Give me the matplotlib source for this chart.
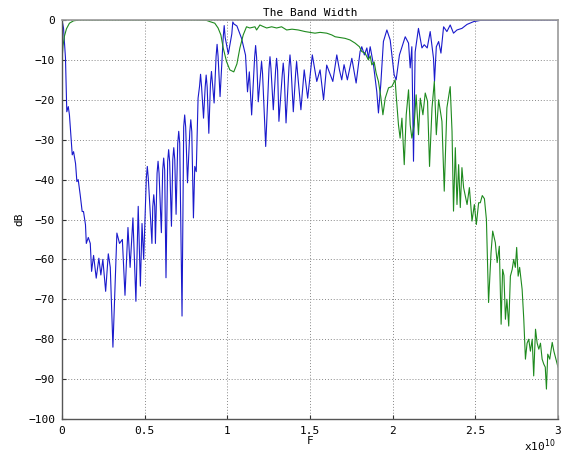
import matplotlib
matplotlib.use("Agg")
import matplotlib.pyplot as plt
import numpy as np

# Frequency in units of 1e10 Hz, magnitude in dB
blue_f = [0.000, 0.009, 0.021, 0.029, 0.038, 0.045, 0.062, 0.070, 0.082, 0.090,
          0.098, 0.110, 0.122, 0.130, 0.142, 0.147, 0.159, 0.171, 0.179, 0.191,
          0.207, 0.223, 0.235, 0.247, 0.264, 0.280, 0.292, 0.308, 0.332, 0.348,
          0.365, 0.381, 0.399, 0.412, 0.429, 0.447, 0.461, 0.474, 0.484, 0.494,
          0.510, 0.516, 0.522, 0.544, 0.549, 0.555, 0.561, 0.565, 0.575, 0.581,
          0.587, 0.601, 0.609, 0.615, 0.621, 0.629, 0.639, 0.645, 0.651, 0.662,
          0.670, 0.676, 0.682, 0.690, 0.700, 0.706, 0.712, 0.726, 0.736, 0.742,
          0.748, 0.759, 0.773, 0.779, 0.785, 0.795, 0.803, 0.812, 0.823, 0.832,
          0.838, 0.844, 0.856, 0.866, 0.872, 0.878, 0.888, 0.898, 0.904, 0.910,
          0.920, 0.932, 0.938, 0.944, 0.956, 0.975, 0.981, 0.987, 1.006, 1.027,
          1.033, 1.040, 1.058, 1.086, 1.110, 1.122, 1.133, 1.147, 1.165, 1.171,
          1.177, 1.187, 1.201, 1.207, 1.213, 1.232, 1.252, 1.258, 1.264, 1.278,
          1.292, 1.298, 1.304, 1.312, 1.332, 1.338, 1.344, 1.355, 1.373, 1.379,
          1.385, 1.399, 1.413, 1.419, 1.425, 1.445, 1.465, 1.486, 1.514, 1.541,
          1.561, 1.582, 1.601, 1.638, 1.662, 1.678, 1.692, 1.706, 1.726, 1.753,
          1.779, 1.803, 1.813, 1.829, 1.844, 1.853, 1.864, 1.884, 1.904, 1.914,
          1.928, 1.944, 1.965, 1.985, 2.009, 2.021, 2.041, 2.076, 2.096, 2.106,
          2.116, 2.126, 2.136, 2.156, 2.177, 2.191, 2.209, 2.227, 2.247, 2.253,
          2.264, 2.278, 2.292, 2.308, 2.328, 2.348, 2.368, 2.389, 2.419, 2.450,
          2.490, 2.530, 3.000]
blue_db = [0, -2, -9.5, -23, -21.7, -23.8, -33.8, -33, -36, -40.5,
           -40, -43.8, -48, -48, -51.3, -56, -54.5, -56, -63, -59,
           -64.7, -59.7, -63.9, -60, -68, -58.6, -62, -82, -53.4, -56,
           -55, -69, -52, -62, -49.6, -70.5, -46.7, -66.7, -51, -60,
           -39.7, -36.7, -39.7, -56, -46.8, -43.8, -46.8, -56, -38.4, -35.4,
           -38.4, -53.3, -37.6, -34.6, -37.6, -64.6, -35.5, -32.5, -35.5, -51.7,
           -35, -32, -35, -48.7, -30.9, -27.9, -30.9, -74.2, -26.8, -23.8,
           -26.8, -40.8, -28, -25, -28, -49.6, -36.7, -38, -19.6, -16.6,
           -13.6, -16.6, -24.6, -16.8, -13.8, -16.8, -28.4, -15.9, -12.9, -15.9,
           -20.8, -9.1, -6.1, -9.1, -19.2, -4.4, -1.4, -4.4, -8.5, -3.5,
           -0.5, -1, -1.5, -4.6, -8.8, -18, -13, -23.8, -9.4, -6.4,
           -9.4, -20.5, -13.4, -10.4, -13.4, -31.7, -12.2, -9.2, -12.2, -22.5,
           -12.6, -9.6, -12.6, -25.4, -13.8, -10.8, -13.8, -25.8, -11.75, -8.75,
           -11.75, -23, -13.4, -10.4, -13.4, -22.5, -12.5, -19.6, -8.75, -15.4,
           -12.5, -20, -11.3, -15.4, -8.75, -12.5, -15, -11.2, -15, -9.6,
           -15.8, -7.9, -6.7, -8.75, -7, -9.6, -6.7, -11.25, -18, -23.3,
           -16.2, -5.4, -2.5, -5, -13.75, -15, -8.75, -4.2, -5.8, -12,
           -6.7, -35.4, -8, -2.1, -7, -6.2, -7, -2.9, -9.6, -15.4,
           -6.7, -5.4, -8.3, -1.7, -2.9, -1.25, -3.3, -2.5, -2.1, -1.1,
           -0.4, -0.1, 0]

green_f = [0.000, 0.006, 0.015, 0.027, 0.045, 0.070, 0.106, 0.803, 0.874, 0.894,
           0.924, 0.944, 0.961, 0.975, 0.995, 1.015, 1.039, 1.058, 1.076, 1.096,
           1.116, 1.136, 1.167, 1.177, 1.197, 1.215, 1.238, 1.268, 1.298, 1.328,
           1.359, 1.391, 1.429, 1.470, 1.500, 1.530, 1.561, 1.601, 1.632, 1.652,
           1.682, 1.712, 1.742, 1.773, 1.799, 1.813, 1.833, 1.853, 1.864, 1.874,
           1.888, 1.900, 1.914, 1.928, 1.941, 1.955, 1.975, 1.995, 2.015, 2.021,
           2.035, 2.045, 2.056, 2.070, 2.082, 2.096, 2.106, 2.116, 2.130, 2.142,
           2.156, 2.167, 2.183, 2.197, 2.211, 2.223, 2.238, 2.252, 2.264, 2.278,
           2.298, 2.312, 2.328, 2.348, 2.359, 2.368, 2.379, 2.389, 2.399, 2.409,
           2.419, 2.429, 2.450, 2.464, 2.480, 2.494, 2.506, 2.520, 2.530, 2.542,
           2.555, 2.567, 2.580, 2.595, 2.605, 2.621, 2.632, 2.645, 2.656, 2.665,
           2.673, 2.682, 2.691, 2.702, 2.712, 2.723, 2.732, 2.742, 2.750, 2.759,
           2.768, 2.783, 2.793, 2.803, 2.813, 2.823, 2.833, 2.844, 2.853, 2.864,
           2.874, 2.884, 2.894, 2.904, 2.914, 2.923, 2.930, 2.938, 2.950, 2.965,
           2.975, 2.985, 3.000]
green_db = [-10, -6.5, -4, -2.2, -0.8, -0.2, 0, 0, -0.1, -0.4,
            -0.8, -2, -3.75, -7, -10.4, -12.5, -13, -11, -7, -3.75,
            -1.7, -2, -1.7, -2.5, -1.25, -1.6, -2, -1.7, -2, -1.7,
            -2.5, -2.3, -2.5, -2.9, -3.1, -3.3, -3.1, -3.3, -3.75, -4.2,
            -4.4, -4.6, -5, -5.8, -6.7, -7.9, -8.3, -10, -9, -11.25,
            -10.5, -13.3, -15.4, -19.2, -23.75, -19.6, -17, -16.7, -15, -18.75,
            -26.25, -29.6, -24.6, -36.25, -23.75, -17.5, -26.25, -29.6, -26.25, -18.75,
            -28.75, -19.6, -23.75, -18.3, -20.4, -36.7, -22, -15.4, -28.75, -20,
            -25.4, -42.9, -22, -16.7, -27.9, -47.9, -32, -46.25, -36.25, -47,
            -37, -42, -46.25, -42, -50.4, -46.25, -51.25, -45.8, -45.8, -44,
            -44.8, -50, -70.8, -58.3, -52.9, -55.8, -60.8, -56.7, -76.25, -62.5,
            -64, -75, -70, -76.7, -64.2, -62.5, -60, -62, -57, -64.2,
            -62, -67.5, -75, -85, -81, -80, -83, -80, -89.2, -77.5,
            -81, -82.5, -81, -85, -86.25, -87, -92.5, -83.75, -85, -80.8,
            -83, -84.6, -87]

x_ticks = [0, 0.5, 1, 1.5, 2, 2.5, 3]
x_ticklabels = ["0", "0.5", "1", "1.5", "2", "2.5", "3"]
y_ticks = [0, -10, -20, -30, -40, -50, -60, -70, -80, -90, -100]
y_ticklabels = ["0", "\u221210", "\u221220", "\u221230", "\u221240", "\u221250",
                "\u221260", "\u221270", "\u221280", "\u221290", "\u2212100"]

font = "DejaVu Sans Mono"
plt.rcParams["font.family"] = [font]

fig = plt.figure(figsize=(5.68, 4.57), dpi=100)
ax = fig.add_axes([62 / 568, 1 - 419 / 457, 496 / 568, 399 / 457])

ax.plot(blue_f, blue_db, color="#1a1acc", lw=0.8)
ax.plot(green_f, green_db, color="#1e8a1e", lw=0.8)

ax.set_xlim(0, 3)
ax.set_ylim(-100, 0)
ax.set_xticks(x_ticks)
ax.set_xticklabels(x_ticklabels)
ax.set_yticks(y_ticks)
ax.set_yticklabels(y_ticklabels)
ax.tick_params(direction="in", length=3, labelsize=8, colors="#333333",
               labelcolor="black", pad=5)
ax.grid(True, color="#888888", linestyle=(0, (1, 2)), linewidth=0.7)
for side in ["left", "bottom"]:
    ax.spines[side].set_color("#555555")
    ax.spines[side].set_linewidth(1.0)
for side in ["top", "right"]:
    ax.spines[side].set_color("#999999")
    ax.spines[side].set_linewidth(1.2)

ax.set_title("The Band Width", fontsize=8, pad=3)
ax.set_xlabel("F", fontsize=8, labelpad=0)
ax.set_ylabel("dB", fontsize=8, labelpad=3)
fig.text(540 / 568, 1 - 454 / 457, "x10$^{10}$", fontsize=8, ha="center",
         va="bottom")

fig.savefig("out.png", dpi=100, facecolor="white")
